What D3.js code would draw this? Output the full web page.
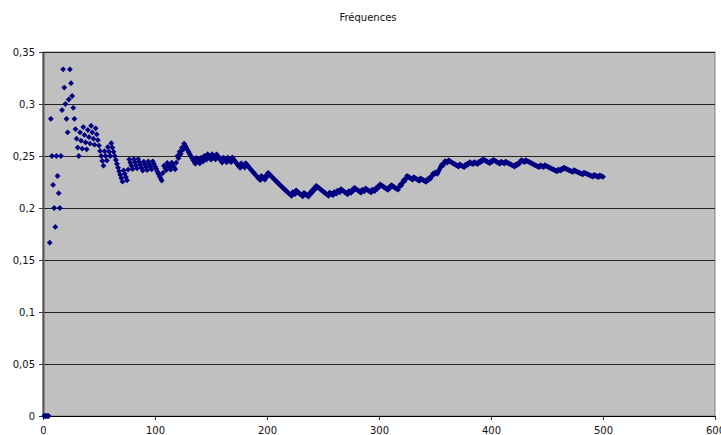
<!DOCTYPE html>
<html>
<head>
<meta charset="utf-8">
<script src="https://cdn.jsdelivr.net/npm/d3@7"></script>
<style>
  body { margin: 0; background: #fff; }
  svg { display: block; }
  text { font-family: "DejaVu Sans", Verdana, sans-serif; }
</style>
</head>
<body>
<div id="chart"></div>
<script>
var title = "Fréquences";
var trials = 500;
var hits = [6, 7, 12, 16, 17, 18, 23, 24, 33, 36, 40, 43, 47, 55, 58, 61, 72, 76, 77, 81,
  85, 90, 94, 98, 107, 108, 111, 115, 119, 120, 122, 124, 126, 137, 141, 144, 147, 151, 155, 161,
  165, 169, 177, 181, 195, 199, 201, 223, 226, 233, 238, 240, 242, 244, 256, 260, 263, 266, 273, 276,
  278, 285, 288, 294, 297, 299, 301, 309, 311, 318, 319, 321, 322, 324, 325, 331, 337, 343, 345, 347,
  348, 350, 353, 354, 355, 356, 358, 359, 362, 372, 377, 379, 381, 385, 389, 391, 393, 400, 402, 409,
  413, 422, 424, 426, 427, 431, 444, 448, 460, 463, 465, 474, 483, 492, 497];
var xTicks = [0, 100, 200, 300, 400, 500, 600];
var yTicks = [0, 0.05, 0.1, 0.15, 0.2, 0.25, 0.3, 0.35];

var width = 721, height = 435;
var margin = {top: 52, right: 6, bottom: 19, left: 43};

// running frequency k/n
var points = [];
var k = 0, hitSet = new Set(hits);
for (var n = 1; n <= trials; n++) {
  if (hitSet.has(n)) k++;
  points.push({n: n, f: k / n});
}

var fr = d3.formatLocale({decimal: ",", thousands: " ", grouping: [3], currency: ["", " €"]});
var fmt = fr.format("~g");

var svg = d3.select("#chart").append("svg")
  .attr("width", width)
  .attr("height", height);

var x = d3.scaleLinear().domain([0, 600]).range([margin.left, width - margin.right]);
var y = d3.scaleLinear().domain([0, 0.35]).range([height - margin.bottom, margin.top]);

// fond gris
svg.append("rect")
  .attr("x", x(0))
  .attr("y", y(0.35))
  .attr("width", x(600) - x(0))
  .attr("height", y(0) - y(0.35))
  .attr("fill", "#c0c0c0")
  .attr("stroke", "#808080")
  .attr("stroke-width", 1);

// quadrillage
svg.append("g")
  .selectAll("line")
  .data(yTicks.slice(1))
  .enter().append("line")
  .attr("x1", x(0))
  .attr("x2", x(600))
  .attr("y1", function(d) { return Math.round(y(d)) + 0.5; })
  .attr("y2", function(d) { return Math.round(y(d)) + 0.5; })
  .attr("stroke", "#222")
  .attr("stroke-width", 1);

// axes
var yAxis = svg.append("g")
  .attr("transform", "translate(" + x(0) + ",0)")
  .call(d3.axisLeft(y).tickValues(yTicks).tickFormat(fmt).tickSize(4).tickSizeOuter(0).tickPadding(4));

var xAxis = svg.append("g")
  .attr("transform", "translate(0," + y(0) + ")")
  .call(d3.axisBottom(x).tickValues(xTicks).tickFormat(fmt).tickSize(4).tickSizeOuter(0).tickPadding(7));

yAxis.select(".domain").attr("stroke", "#555").attr("stroke-width", 2);
xAxis.select(".domain").attr("stroke", "#000");
svg.selectAll(".tick line").attr("stroke", "#333");
svg.selectAll(".tick text").attr("font-size", 10).attr("fill", "#111")
  .style("font-family", "'DejaVu Sans', Verdana, sans-serif");

// titre
svg.append("text")
  .attr("x", 368)
  .attr("y", 21)
  .attr("text-anchor", "middle")
  .attr("font-size", 10)
  .attr("fill", "#111")
  .text(title);

// points
var diamond = d3.symbol().type(d3.symbolSquare).size(17);
svg.append("g")
  .selectAll("path")
  .data(points)
  .enter().append("path")
  .attr("d", diamond)
  .attr("transform", function(d) { return "translate(" + x(d.n) + "," + y(d.f) + ") rotate(45)"; })
  .attr("fill", "#000080");
</script>
</body>
</html>
